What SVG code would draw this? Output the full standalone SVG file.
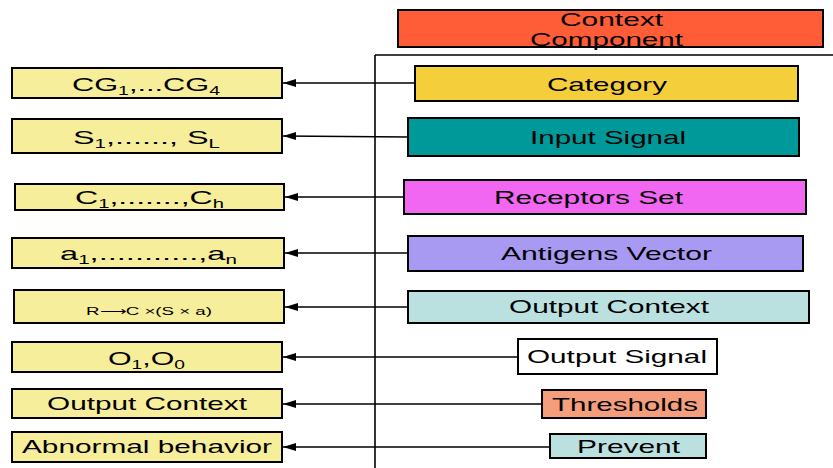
<svg xmlns="http://www.w3.org/2000/svg" width="833" height="468" viewBox="0 0 833 468">
<defs>
<marker id="ah" markerWidth="14" markerHeight="10" refX="13" refY="5" orient="auto" markerUnits="userSpaceOnUse">
<path d="M0,1 L13,5 L0,9 Z" fill="#000"/>
</marker>
<style>
rect{stroke:#000;stroke-width:2}
.l rect{fill:#F6EE9A}
text{font-family:"Liberation Sans",Arial,sans-serif;font-size:19px;fill:#000;text-anchor:start}
.sub{font-size:12px}
.c line{stroke:#000;stroke-width:1.6}
</style>
</defs>
<g id="context-component"><rect x="398" y="10" width="425" height="37" fill="#FF5C38"/><text x="560" y="26" textLength="103" lengthAdjust="spacingAndGlyphs">Context</text><text x="530" y="46" textLength="153" lengthAdjust="spacingAndGlyphs">Component</text></g>
<g class="c" id="connectors">
<line x1="375" y1="55" x2="375" y2="468"/>
<line x1="375" y1="55" x2="833" y2="55"/>
<line x1="415" y1="83" x2="283" y2="83" marker-end="url(#ah)"/>
<line x1="408" y1="137" x2="283" y2="136" marker-end="url(#ah)"/>
<line x1="404" y1="197" x2="285" y2="197" marker-end="url(#ah)"/>
<line x1="408" y1="253" x2="285" y2="253" marker-end="url(#ah)"/>
<line x1="408" y1="307" x2="285" y2="307" marker-end="url(#ah)"/>
<line x1="518" y1="357" x2="283" y2="357" marker-end="url(#ah)"/>
<line x1="542" y1="404" x2="283" y2="404" marker-end="url(#ah)"/>
<line x1="550" y1="447" x2="283" y2="447" marker-end="url(#ah)"/>
</g>
<g id="category"><rect x="415" y="66" width="383" height="35" fill="#F5CE3C"/><text x="547" y="91" textLength="120" lengthAdjust="spacingAndGlyphs">Category</text></g>
<g id="input-signal"><rect x="408" y="118" width="391" height="38" fill="#009999"/><text x="530" y="144" textLength="156" lengthAdjust="spacingAndGlyphs">Input Signal</text></g>
<g id="receptors-set"><rect x="404" y="180" width="402" height="34" fill="#F267F2"/><text x="494" y="204" textLength="189" lengthAdjust="spacingAndGlyphs">Receptors Set</text></g>
<g id="antigens-vector"><rect x="408" y="236" width="395" height="35" fill="#A899F2"/><text x="501" y="260" textLength="211" lengthAdjust="spacingAndGlyphs">Antigens Vector</text></g>
<g id="output-context"><rect x="408" y="291" width="401" height="32" fill="#BBE0E0"/><text x="509" y="313" textLength="200" lengthAdjust="spacingAndGlyphs">Output Context</text></g>
<g id="output-signal"><rect x="518" y="339" width="199" height="35" fill="#FFFFFF"/><text x="527" y="363" textLength="180" lengthAdjust="spacingAndGlyphs">Output Signal</text></g>
<g id="thresholds"><rect x="542" y="390" width="164" height="28" fill="#F59E7E"/><text x="552" y="411" textLength="146" lengthAdjust="spacingAndGlyphs">Thresholds</text></g>
<g id="prevent"><rect x="550" y="434" width="156" height="24" fill="#BBE0E0"/><text x="577" y="453" textLength="103" lengthAdjust="spacingAndGlyphs">Prevent</text></g>
<g class="l" id="cg"><rect x="12" y="68" width="270" height="30"/><text x="72" y="91" textLength="148" lengthAdjust="spacingAndGlyphs">CG<tspan class="sub" dy="4">1</tspan><tspan dy="-4">,...CG</tspan><tspan class="sub" dy="4">4</tspan></text></g>
<g class="l" id="s"><rect x="12" y="119" width="270" height="34"/><text x="73" y="144" textLength="147" lengthAdjust="spacingAndGlyphs">S<tspan class="sub" dy="4">1</tspan><tspan dy="-4">,......, S</tspan><tspan class="sub" dy="4">L</tspan></text></g>
<g class="l" id="c"><rect x="15" y="184" width="269" height="26"/><text x="75" y="204" textLength="149" lengthAdjust="spacingAndGlyphs">C<tspan class="sub" dy="4">1</tspan><tspan dy="-4">,.......,C</tspan><tspan class="sub" dy="4">h</tspan></text></g>
<g class="l" id="a"><rect x="12" y="238" width="272" height="30"/><text x="60" y="260" textLength="177" lengthAdjust="spacingAndGlyphs">a<tspan class="sub" dy="4">1</tspan><tspan dy="-4">,...........,a</tspan><tspan class="sub" dy="4">n</tspan></text></g>
<g class="l" id="r"><rect x="14" y="290" width="270" height="33"/><text x="86" y="315" style="font-size:10px" textLength="126" lengthAdjust="spacingAndGlyphs">R⟶C ×(S × a)</text></g>
<g class="l" id="o"><rect x="12" y="342" width="270" height="30"/><text x="108" y="365" textLength="77" lengthAdjust="spacingAndGlyphs">O<tspan class="sub" dy="4">1</tspan><tspan dy="-4">,O</tspan><tspan class="sub" dy="4">0</tspan></text></g>
<g class="l" id="oc"><rect x="12" y="389" width="270" height="29"/><text x="47" y="410" textLength="200" lengthAdjust="spacingAndGlyphs">Output Context</text></g>
<g class="l" id="ab"><rect x="12" y="432" width="270" height="30"/><text x="22" y="453" textLength="250" lengthAdjust="spacingAndGlyphs">Abnormal behavior</text></g>
</svg>
